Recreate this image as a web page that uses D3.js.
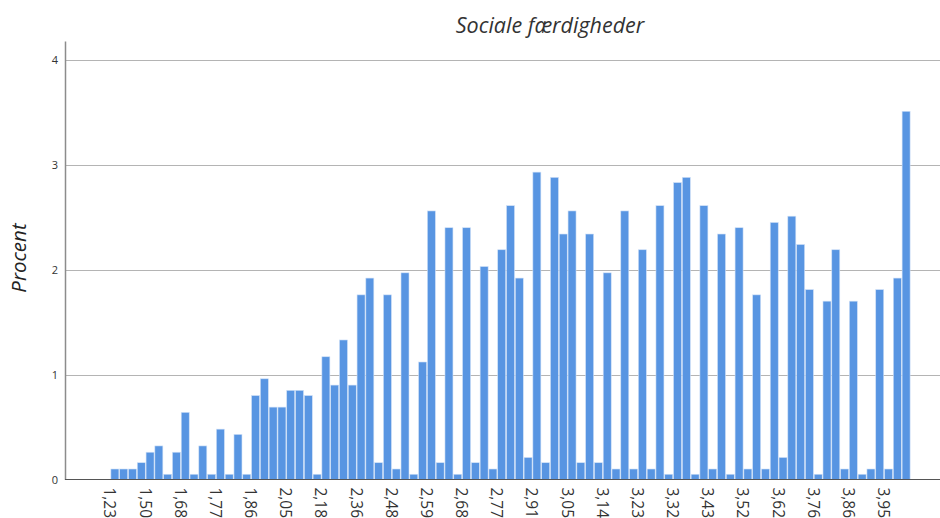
<!DOCTYPE html>
<html>
<head>
<meta charset="utf-8">
<script src="https://cdn.jsdelivr.net/npm/d3@7"></script>
<style>
  body { margin: 0; background: #fff; }
  text { font-family: "Open Sans", "Noto Sans", sans-serif; }
</style>
</head>
<body>
<div id="chart"></div>
<script>
// percent per score value (91 bars), left to right
const values = [
  0.10, 0.10, 0.10, 0.16, 0.26, 0.32, 0.05, 0.26, 0.64, 0.05,
  0.32, 0.05, 0.48, 0.05, 0.43, 0.05, 0.80, 0.96, 0.69, 0.69,
  0.85, 0.85, 0.80, 0.05, 1.17, 0.90, 1.33, 0.90, 1.76, 1.92,
  0.16, 1.76, 0.10, 1.97, 0.05, 1.12, 2.56, 0.16, 2.40, 0.05,
  2.40, 0.16, 2.03, 0.10, 2.19, 2.61, 1.92, 0.21, 2.93, 0.16,
  2.88, 2.34, 2.56, 0.16, 2.34, 0.16, 1.97, 0.10, 2.56, 0.10,
  2.19, 0.10, 2.61, 0.05, 2.83, 2.88, 0.05, 2.61, 0.10, 2.34,
  0.05, 2.40, 0.10, 1.76, 0.10, 2.45, 0.21, 2.51, 2.24, 1.81,
  0.05, 1.70, 2.19, 0.10, 1.70, 0.05, 0.10, 1.81, 0.10, 1.92,
  3.51
];

// labels shown under every 4th bar
const tickLabels = ["1,23", "1,50", "1,68", "1,77", "1,86", "2,05", "2,18", "2,36",
  "2,48", "2,59", "2,68", "2,77", "2,91", "3,05", "3,14", "3,23", "3,32", "3,43",
  "3,52", "3,62", "3,76", "3,86", "3,95"];
const labelEvery = 4;

const yTicks = [0, 1, 2, 3, 4];

const width = 940, height = 518;
const plotLeft = 65, plotRight = 940, plotBottom = 479.5;

const svg = d3.select("#chart")
  .append("svg")
  .attr("width", width)
  .attr("height", height);

const x = d3.scaleBand()
  .domain(d3.range(values.length))
  .range([110.5, 910.5])
  .padding(0);

const y = d3.scaleLinear()
  .domain([0, 4.18])
  .range([plotBottom, 41]);

// gridlines
svg.append("g")
  .selectAll("line")
  .data(yTicks.filter(d => d > 0))
  .enter()
  .append("line")
  .attr("x1", plotLeft)
  .attr("x2", plotRight)
  .attr("y1", d => Math.round(y(d)) + 0.5)
  .attr("y2", d => Math.round(y(d)) + 0.5)
  .attr("stroke", "#b4b4b4")
  .attr("stroke-width", 1);

// bars
svg.append("g")
  .selectAll("rect")
  .data(values)
  .enter()
  .append("rect")
  .attr("x", (d, i) => x(i) + 0.4)
  .attr("y", d => y(d))
  .attr("width", x.bandwidth() - 0.8)
  .attr("height", d => plotBottom - y(d))
  .attr("fill", "#5895e2")
  .attr("stroke", "#cfe0f7")
  .attr("stroke-width", 0.6);

// y axis
const yAxis = svg.append("g")
  .attr("transform", `translate(${plotLeft},0)`)
  .call(d3.axisLeft(y).tickValues(yTicks).tickFormat(d3.format("d")).tickSize(0).tickPadding(7));
yAxis.select(".domain").attr("stroke", "#8c8c8c").attr("stroke-width", 1.5);
yAxis.selectAll("text").attr("font-size", 11).attr("fill", "#333");

// x axis
const xAxis = svg.append("g")
  .attr("transform", `translate(0,${plotBottom})`)
  .call(d3.axisBottom(x)
    .tickValues(d3.range(0, values.length, labelEvery))
    .tickFormat(i => tickLabels[i / labelEvery])
    .tickSize(0));
xAxis.select(".domain").remove();
svg.append("line")
  .attr("x1", plotLeft).attr("x2", plotRight)
  .attr("y1", plotBottom).attr("y2", plotBottom)
  .attr("stroke", "#555").attr("stroke-width", 1.2);
xAxis.selectAll("text")
  .attr("font-family", "'Liberation Sans', Arial, sans-serif")
  .attr("font-size", 15.5)
  .attr("fill", "#333")
  .attr("text-anchor", "start")
  .attr("transform", "translate(-5,8) rotate(90)")
  .attr("x", 0)
  .attr("y", 0)
  .attr("dy", "0.35em");

// title
svg.append("text")
  .attr("x", 550)
  .attr("y", 33)
  .attr("text-anchor", "middle")
  .attr("font-size", 21.5)
  .attr("font-style", "italic")
  .attr("fill", "#333")
  .text("Sociale færdigheder");

// y label
svg.append("text")
  .attr("transform", "translate(26,258) rotate(-90)")
  .attr("text-anchor", "middle")
  .attr("font-size", 20.5)
  .attr("font-style", "italic")
  .attr("fill", "#222")
  .text("Procent");
</script>
</body>
</html>
